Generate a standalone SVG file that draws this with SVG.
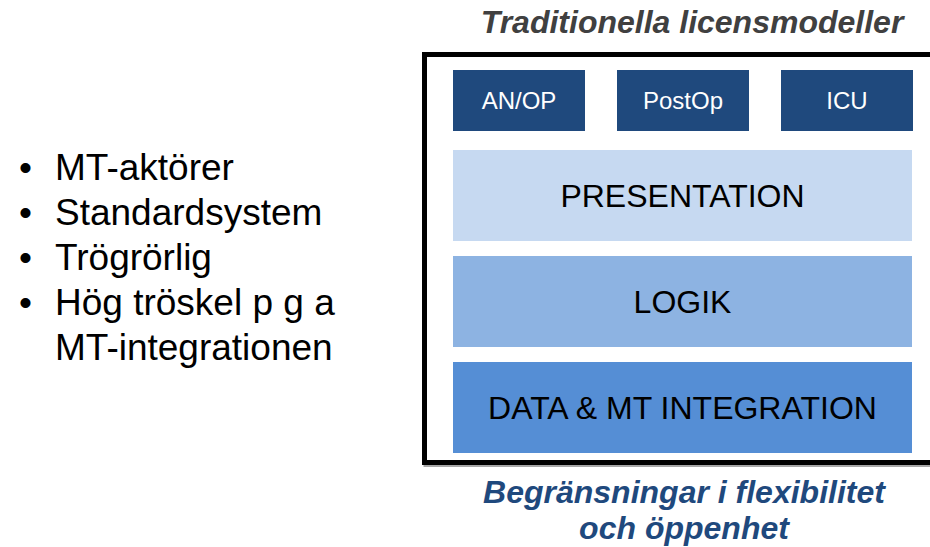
<svg xmlns="http://www.w3.org/2000/svg" width="930" height="547" viewBox="0 0 930 547">
  <style>
    .sans { font-family: "Liberation Sans", Arial, sans-serif; }
    .bullet { font-size: 37px; fill: #000000; }
    .heading { font-size: 32px; font-weight: bold; font-style: italic; text-anchor: middle; }
    .module { fill: #1F497D; }
    .module-label { font-size: 24px; fill: #FFFFFF; text-anchor: middle; }
    .layer-label { font-size: 32px; fill: #000000; text-anchor: middle; }
  </style>

  <rect width="930" height="547" fill="#FFFFFF"/>

  <!-- Bullet list -->
  <g id="bullets" class="sans bullet">
    <text x="19" y="180">•</text><text x="55" y="180">MT-aktörer</text>
    <text x="19" y="225">•</text><text x="55" y="225">Standardsystem</text>
    <text x="19" y="270">•</text><text x="55" y="270">Trögrörlig</text>
    <text x="19" y="315">•</text><text x="55" y="315">Hög tröskel p g a</text>
    <text x="55" y="360">MT-integrationen</text>
  </g>

  <!-- Heading above the stack -->
  <g id="title">
    <text class="sans heading" x="692" y="33" fill="#404040">Traditionella licensmodeller</text>
  </g>

  <!-- Outer frame -->
  <g id="frame">
    <rect x="426" y="56.5" width="520" height="408" fill="none" stroke="#A6A6A6" stroke-width="5"/>
    <rect x="424.5" y="54.5" width="520" height="408" fill="#FFFFFF" stroke="#000000" stroke-width="5"/>
  </g>

  <!-- Client modules -->
  <g id="anop">
    <rect class="module" x="453" y="70" width="132" height="61"/>
    <text class="sans module-label" x="519" y="109">AN/OP</text>
  </g>
  <g id="postop">
    <rect class="module" x="617" y="70" width="132" height="61"/>
    <text class="sans module-label" x="683" y="109">PostOp</text>
  </g>
  <g id="icu">
    <rect class="module" x="781" y="70" width="132" height="61"/>
    <text class="sans module-label" x="847" y="109">ICU</text>
  </g>

  <!-- Layers -->
  <g id="presentation">
    <rect x="453" y="150" width="459" height="91" fill="#C6D9F1"/>
    <text class="sans layer-label" x="682.5" y="207">PRESENTATION</text>
  </g>
  <g id="logik">
    <rect x="453" y="256" width="459" height="91" fill="#8DB3E2"/>
    <text class="sans layer-label" x="682.5" y="313">LOGIK</text>
  </g>
  <g id="data">
    <rect x="453" y="362" width="459" height="91" fill="#558ED5"/>
    <text class="sans layer-label" x="682.5" y="419">DATA &amp; MT INTEGRATION</text>
  </g>

  <!-- Caption below the stack -->
  <g id="caption" class="sans heading" fill="#1F497D">
    <text x="684" y="503">Begränsningar i flexibilitet</text>
    <text x="684" y="539">och öppenhet</text>
  </g>

  <g id="connectors"/>
</svg>
